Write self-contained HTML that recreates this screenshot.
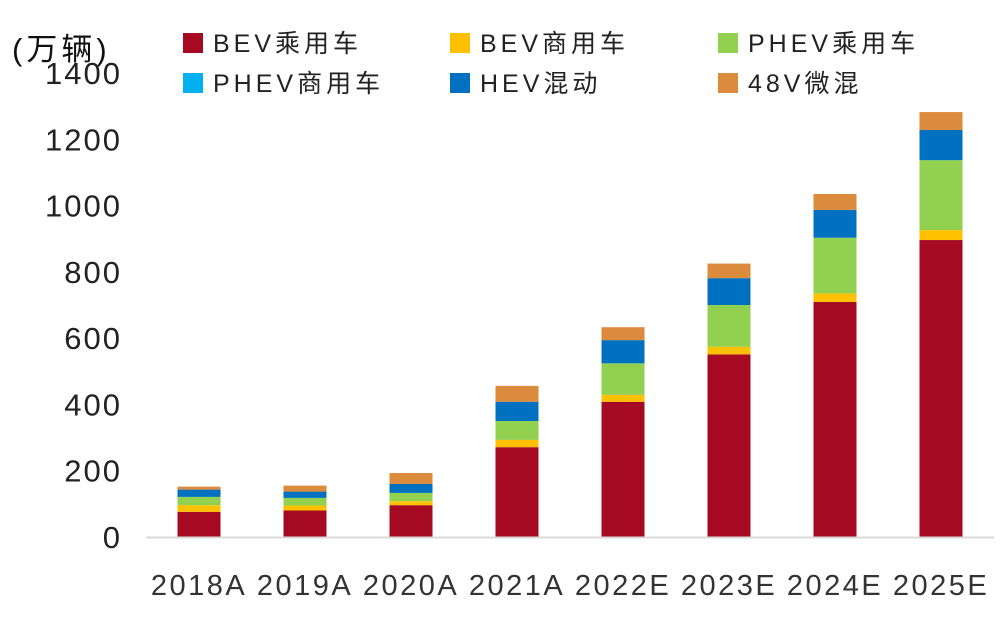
<!DOCTYPE html>
<html><head><meta charset="utf-8"><style>
body{margin:0;background:#fff;}
svg text{font-family:"Liberation Sans","Noto Sans CJK SC",sans-serif;}
</style></head><body>
<svg id="c" width="1000" height="617">
<text x="12" y="60" font-size="31" fill="#111" letter-spacing="4">(万辆)</text>
<g id="legend"></g><g id="yaxis"></g><g id="bars"></g><g id="xaxis"></g>
</svg>
<script>
const categories=["2018A","2019A","2020A","2021A","2022E","2023E","2024E","2025E"];
const bevPassenger=[76,80,96,271,408,551,709,896];
const bevCommercial=[20,15,12,22,21,23,26,30];
const phevPassenger=[25,23,25,57,95,126,168,211];
const phevCommercial=[0,0,0,0,0,0,0,0];
const hevHybrid=[22,19,27,58,70,81,84,91];
const mildHybrid48v=[9,18,33,48,39,44,48,54];
const yTicks=[0,200,400,600,800,1000,1200,1400];
const seriesNames=["BEV乘用车","BEV商用车","PHEV乘用车","PHEV商用车","HEV混动","48V微混"];
const series=[bevPassenger,bevCommercial,phevPassenger,phevCommercial,hevHybrid,mildHybrid48v];
const colors=["#a50a22","#ffc000","#92d050","#00b0f0","#0070c0","#dc8a3c"];
const NS="http://www.w3.org/2000/svg";
const y0=537,yTop=73,yMax=1400,xL=146,band=106,bw=43;
const ys=v=>y0-(v/yMax)*(y0-yTop);
const xs=i=>xL+band*i+band/2;
function mk(t,a,p){const e=document.createElementNS(NS,t);for(const k in a)e.setAttribute(k,a[k]);p.appendChild(e);return e;}
const gy=document.getElementById('yaxis');
yTicks.forEach(t=>{const e=mk('text',{x:122,y:ys(t)+11,'font-size':31,fill:'#222','text-anchor':'end','letter-spacing':'2'},gy);e.textContent=t;

});
const gb=document.getElementById('bars');
categories.forEach((c,i)=>{let acc=0;series.forEach((s,k)=>{const v=s[i];if(v<=0)return;
const r=mk('rect',{x:xs(i)-bw/2,y:ys(acc+v),width:bw,height:ys(acc)-ys(acc+v),fill:colors[k]},gb);


acc+=v;});});
const gx=document.getElementById('xaxis');
const ax=mk('line',{x1:xL,x2:xL+band*8,y1:y0+0.5,y2:y0+0.5,stroke:'#d9d9d9','stroke-width':2},gx);


categories.forEach((c,i)=>{const e=mk('text',{x:xs(i),y:595,'font-size':29,fill:'#333','text-anchor':'middle','letter-spacing':'2.5'},gx);e.textContent=c;

});
const gl=document.getElementById('legend');
const lx=[183,450,718],ly=[33,73];
seriesNames.forEach((n,k)=>{const x=lx[k%3],y=ly[Math.floor(k/3)];
const g=mk('g',{},gl);


mk('rect',{x:x,y:y,width:20,height:20,fill:colors[k]},g);
const t=mk('text',{x:x+30,y:y+19,'font-size':25,fill:'#222','letter-spacing':'4'},g);t.textContent=n;});
</script>
</body></html>
